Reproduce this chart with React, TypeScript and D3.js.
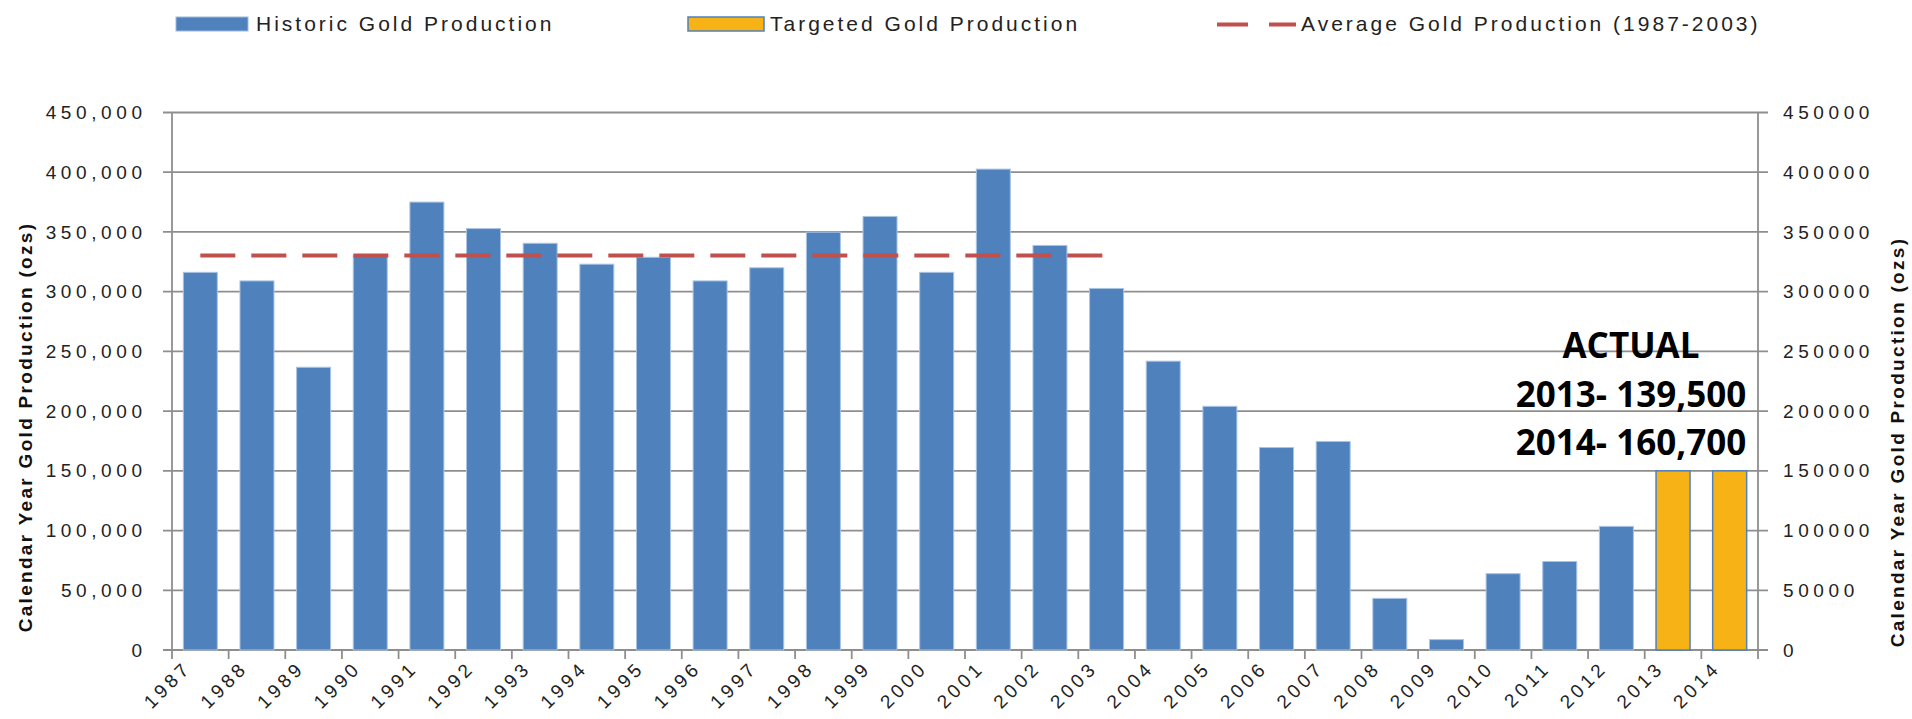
import * as d3 from "d3";

// categories and values
const years = [
  "1987", "1988", "1989", "1990", "1991", "1992", "1993", "1994", "1995", "1996",
  "1997", "1998", "1999", "2000", "2001", "2002", "2003", "2004", "2005", "2006",
  "2007", "2008", "2009", "2010", "2011", "2012", "2013", "2014",
];
const historicYears = years.slice(0, 26);
const historicValues = [
  316200, 309000, 236700, 330000, 375000, 352800, 340500, 323000, 328800, 309000,
  320000, 349800, 363000, 316200, 402600, 338700, 302700, 241800, 204000, 169500,
  174600, 43200, 8700, 63900, 74100, 103500,
];
const targetedYears = ["2013", "2014"];
const targetedValues = [150000, 150000];
const averageValue = 330300;
const averageFrom = "1987";
const averageTo = "2003";
const yTicks = [0, 50000, 100000, 150000, 200000, 250000, 300000, 350000, 400000, 450000];
const actualNotes = ["ACTUAL", "2013- 139,500", "2014- 160,700"];

const W = 1912;
const H = 719;
const left = 172;
const right = 1758;
const top = 112.5;
const bottom = 650;

const BLUE = "#4F81BD";
const GOLD = "#F7B315";
const RED = "#C0504D";
const GRID = "#8E8E8E";
const FONT = "'Liberation Sans', Arial, sans-serif";

export default function App() {
  const x = d3.scaleBand<string>().domain(years).range([left, right]).paddingInner(0.4).paddingOuter(0.2);
  const xb = d3.scaleBand<string>().domain(years).range([left, right]);
  const y = d3.scaleLinear().domain([0, 450000]).range([bottom, top]);
  const fmtL = d3.format(",");
  const fmtR = d3.format("d");
  const cx = (d: string) => (x(d) as number) + x.bandwidth() / 2;
  const boundaries = years.map((d) => xb(d) as number).concat([right]);

  const histData = historicYears.map((d, i) => ({ year: d, value: historicValues[i] }));
  const targData = targetedYears.map((d, i) => ({ year: d, value: targetedValues[i] }));

  const tickText = { fontFamily: FONT, fontSize: 19, letterSpacing: 4.6, fill: "#222" };
  const xText = { fontFamily: FONT, fontSize: 19, letterSpacing: 3.8, fill: "#222" };

  return (
    <div style={{ position: "absolute", left: 0, top: 0, width: W, height: H, background: "#fff" }}>
      <svg width={W} height={H} style={{ display: "block" }}>
        <rect width={W} height={H} fill="#fff" />

        {/* legend */}
        <g fontFamily={FONT} fontSize={21} letterSpacing={3} fill="#222">
          <rect x={176} y={17} width={72} height={14} fill={BLUE} stroke="#9DB9DE" strokeWidth={1} />
          <text x={256} y={31}>Historic Gold Production</text>
          <rect x={688} y={17} width={76} height={14} fill={GOLD} stroke={BLUE} strokeWidth={1.5} />
          <text x={770} y={31}>Targeted Gold Production</text>
          <line x1={1217} x2={1296} y1={24.5} y2={24.5} stroke={RED} strokeWidth={4} strokeDasharray="31 21 27 100" />
          <text x={1301} y={31}>Average Gold Production (1987-2003)</text>
        </g>

        {/* gridlines */}
        {yTicks.map((t) => (
          <line key={"g" + t} x1={left - 9} x2={right + 10} y1={y(t)} y2={y(t)} stroke={GRID} strokeWidth={1.8} />
        ))}

        {/* axes */}
        <line x1={left} x2={left} y1={top} y2={bottom} stroke={GRID} strokeWidth={1.8} />
        <line x1={right} x2={right} y1={top} y2={bottom} stroke={GRID} strokeWidth={1.8} />
        {boundaries.map((b, i) => (
          <line key={"t" + i} x1={b} x2={b} y1={bottom} y2={bottom + 9} stroke={GRID} strokeWidth={1.8} />
        ))}

        {/* left tick labels */}
        {yTicks.map((t) => (
          <text key={"l" + t} x={142 + 4.6} y={y(t)} dy="0.35em" textAnchor="end" style={tickText}>
            {fmtL(t)}
          </text>
        ))}
        {/* right tick labels */}
        {yTicks.map((t) => (
          <text key={"r" + t} x={1783} y={y(t)} dy="0.35em" textAnchor="start" style={tickText}>
            {fmtR(t)}
          </text>
        ))}

        {/* bars */}
        {histData.map((d) => (
          <rect
            key={"h" + d.year}
            x={x(d.year)}
            y={y(d.value)}
            width={x.bandwidth()}
            height={y(0) - y(d.value)}
            fill={BLUE}
            stroke="#A9C3E3"
            strokeWidth={1}
          />
        ))}
        {targData.map((d) => (
          <rect
            key={"t" + d.year}
            x={x(d.year)}
            y={y(d.value)}
            width={x.bandwidth()}
            height={y(0) - y(d.value)}
            fill={GOLD}
            stroke={BLUE}
            strokeWidth={1.5}
          />
        ))}

        {/* average line */}
        <line
          x1={cx(averageFrom)}
          x2={cx(averageTo)}
          y1={y(averageValue)}
          y2={y(averageValue)}
          stroke={RED}
          strokeWidth={4}
          strokeDasharray="35 16"
        />

        {/* x labels */}
        {years.map((d) => (
          <text
            key={"x" + d}
            transform={`translate(${cx(d) - 8},${669}) rotate(-45)`}
            textAnchor="end"
            style={xText}
          >
            {d}
          </text>
        ))}

        {/* axis titles */}
        <text
          transform={`translate(32,427) rotate(-90)`}
          textAnchor="middle"
          fontFamily={FONT}
          fontWeight="bold"
          fontSize={19}
          letterSpacing={2.3}
          fill="#111"
        >
          Calendar Year Gold Production (ozs)
        </text>
        <text
          transform={`translate(1904,442) rotate(-90)`}
          textAnchor="middle"
          fontFamily={FONT}
          fontWeight="bold"
          fontSize={19}
          letterSpacing={2.3}
          fill="#111"
        >
          Calendar Year Gold Production (ozs)
        </text>

        {/* annotation */}
        <g fontFamily="'Open Sans', sans-serif" fontWeight="bold" fontSize={35} fill="#000" textAnchor="middle">
          {actualNotes.map((s, i) => (
            <text key={s} x={1631} y={358 + i * 48.7}>
              {s}
            </text>
          ))}
        </g>
      </svg>
    </div>
  );
}
